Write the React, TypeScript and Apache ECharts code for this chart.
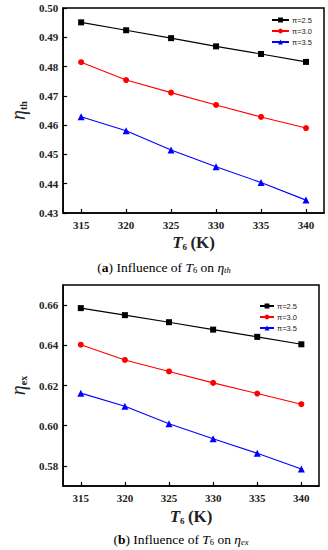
import React, { useEffect, useRef } from "react";
import * as echarts from "echarts";

const temps = [315, 320, 325, 330, 335, 340];
const seriesNames = ["π=2.5", "π=3.0", "π=3.5"];
const etaTh25 = [0.4951, 0.4924, 0.4897, 0.4869, 0.4843, 0.4816];
const etaTh30 = [0.4815, 0.4754, 0.4711, 0.4669, 0.4628, 0.459];
const etaTh35 = [0.4629, 0.4581, 0.4515, 0.4458, 0.4404, 0.4344];
const etaEx25 = [0.6585, 0.655, 0.6515, 0.6478, 0.6442, 0.6405];
const etaEx30 = [0.6403, 0.6327, 0.627, 0.6213, 0.616, 0.6107];
const etaEx35 = [0.6162, 0.6097, 0.601, 0.5935, 0.5863, 0.5785];
const xTicks = [315, 320, 325, 330, 335, 340];
const yTicksTh = [0.43, 0.44, 0.45, 0.46, 0.47, 0.48, 0.49, 0.5];
const yTicksEx = [0.58, 0.6, 0.62, 0.64, 0.66];

const colors = ["#000000", "#ff0000", "#0000ff"];
const symbols = ["rect", "circle", "triangle"];
const serif = "Liberation Serif";

export default function App() {
  const ref = useRef<HTMLDivElement>(null);
  useEffect(() => {
    if (!ref.current) return;
    const chart = echarts.init(ref.current, null, { renderer: "svg" });
    const labelStyle = {
      fontFamily: serif,
      fontWeight: "bold" as const,
      fontSize: 11,
      color: "#222",
    };
    const mkX = (gi: number, gap: number) => ({
      type: "value" as const,
      gridIndex: gi,
      min: 313,
      max: 342,
      splitLine: { show: false },
      axisLine: { show: true, lineStyle: { color: "#000", width: 1.5 } },
      axisTick: { show: true, inside: true, length: 4, customValues: xTicks, lineStyle: { color: "#000", width: 1.2 } },
      axisLabel: { ...labelStyle, margin: 6, customValues: xTicks },
      name: "{t|T}{s|6} {k|(K)}",
      nameLocation: "middle" as const,
      nameGap: gap,
      nameTextStyle: {
        rich: {
          t: { fontFamily: serif, fontStyle: "italic", fontWeight: "bold", fontSize: 17, color: "#222" },
          s: { fontFamily: serif, fontWeight: "bold", fontSize: 9, color: "#222", verticalAlign: "bottom", padding: [8, 0, 0, 0] },
          k: { fontFamily: serif, fontWeight: "bold", fontSize: 17, color: "#222" },
        },
      },
    });
    const mkY = (gi: number, min: number, max: number, ticks: number[], sub: string) => ({
      type: "value" as const,
      gridIndex: gi,
      min,
      max,
      splitLine: { show: false },
      axisLine: { show: true, lineStyle: { color: "#000", width: 1.5 } },
      axisTick: { show: true, inside: true, length: 4, customValues: ticks, lineStyle: { color: "#000", width: 1.2 } },
      axisLabel: { ...labelStyle, margin: 5, customValues: ticks, formatter: (v: number) => v.toFixed(2) },
      name: "{e|η}{s|" + sub + "}",
      nameLocation: "middle" as const,
      nameRotate: 90,
      nameGap: 34,
      nameTextStyle: {
        rich: {
          e: { fontFamily: serif, fontStyle: "italic", fontSize: 20, color: "#222" },
          s: { fontFamily: serif, fontWeight: "bold", fontSize: 10, color: "#222", verticalAlign: "bottom", padding: [10, 0, 0, 0] },
        },
      },
    });
    const mkSeries = (gi: number, arrs: number[][]) =>
      arrs.map((arr, i) => ({
        type: "line" as const,
        name: seriesNames[i],
        xAxisIndex: gi,
        yAxisIndex: gi,
        data: temps.map((t, j) => [t, arr[j]]),
        symbol: symbols[i],
        symbolSize: i === 2 ? 7 : 6,
        showSymbol: true,
        lineStyle: { color: colors[i], width: 1.1 },
        itemStyle: { color: colors[i] },
      }));
    const captionRich = {
      n: { fontFamily: serif, fontSize: 13.5, color: "#222" },
      b: { fontFamily: serif, fontSize: 13.5, fontWeight: "bold", color: "#222" },
      i: { fontFamily: serif, fontSize: 13.5, fontStyle: "italic", color: "#222" },
      s: { fontFamily: serif, fontSize: 8.5, fontStyle: "italic", color: "#222", verticalAlign: "bottom", padding: [6, 0, 0, 0] },
      s2: { fontFamily: serif, fontSize: 8.5, color: "#222", verticalAlign: "bottom", padding: [6, 0, 0, 0] },
    };
    chart.setOption({
      animation: false,
      backgroundColor: "#ffffff",
      grid: [
        { left: 49, top: 8, width: 275, height: 205, show: true, borderColor: "#000", borderWidth: 1.5 },
        { left: 50, top: 285, width: 269, height: 201, show: true, borderColor: "#000", borderWidth: 1.5 },
      ],
      legend: [
        {
          data: seriesNames,
          orient: "vertical",
          left: 266,
          top: 11,
          itemWidth: 17,
          itemHeight: 6,
          itemGap: 3,
          textStyle: { fontFamily: "Liberation Sans", fontSize: 7.5, color: "#222", padding: [0, 0, 0, -2] },
        },
        {
          data: seriesNames,
          orient: "vertical",
          left: 254,
          top: 297,
          itemWidth: 14,
          itemHeight: 6,
          itemGap: 3,
          textStyle: { fontFamily: "Liberation Sans", fontSize: 7.5, color: "#222", padding: [0, 0, 0, -2] },
        },
      ],
      xAxis: [mkX(0, 21), mkX(1, 22)],
      yAxis: [mkY(0, 0.43, 0.5, yTicksTh, "th"), mkY(1, 0.57, 0.67, yTicksEx, "ex")],
      series: [
        ...mkSeries(0, [etaTh25, etaTh30, etaTh35]),
        ...mkSeries(1, [etaEx25, etaEx30, etaEx35]),
      ],
      graphic: [
        {
          type: "text",
          x: 164,
          y: 267,
          style: {
            text: "{n|(}{b|a}{n|) Influence of }{i|T}{s2|6}{n| on }{i|η}{s|th}",
            rich: captionRich,
            align: "center",
            verticalAlign: "middle",
          },
        },
        {
          type: "text",
          x: 181,
          y: 539,
          style: {
            text: "{n|(}{b|b}{n|) Influence of }{i|T}{s2|6}{n| on }{i|η}{s|ex}",
            rich: captionRich,
            align: "center",
            verticalAlign: "middle",
          },
        },
      ],
    });
    return () => chart.dispose();
  }, []);
  return (
    <div
      ref={ref}
      style={{ position: "fixed", left: 0, top: 0, width: 328, height: 550, background: "#fff" }}
    />
  );
}
